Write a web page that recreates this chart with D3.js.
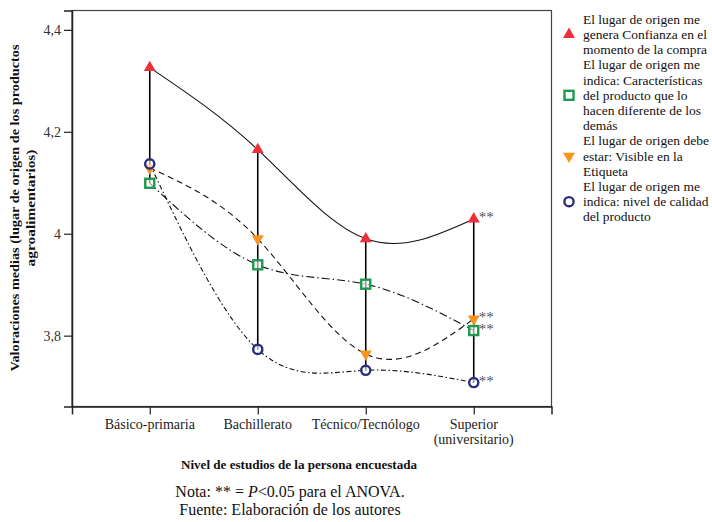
<!DOCTYPE html>
<html><head><meta charset="utf-8">
<script src="https://cdn.jsdelivr.net/npm/d3@7"></script>
<style>body{margin:0;background:#fff}svg{display:block}text{font-family:"Liberation Serif","Times New Roman",serif}</style>
</head><body><svg id="c" width="712" height="522"></svg>
<script>
const categories = ["Básico-primaria","Bachillerato","Técnico/Tecnólogo","Superior (universitario)"];
const categoryLines = [["Básico-primaria"],["Bachillerato"],["Técnico/Tecnólogo"],["Superior","(universitario)"]];
const confianza = [4.326, 4.165, 3.990, 4.029];
const caracteristicas = [4.099, 3.939, 3.901, 3.810];
const visible = [4.129, 3.990, 3.764, 3.833];
const calidad = [4.137, 3.773, 3.732, 3.708];
const yTicks = [3.8, 4.0, 4.2, 4.4];
const yTickLabels = ["3,8","4","4,2","4,4"];
const significant = [false,false,false,true];
const legendTexts = [
  ["El lugar de origen me","genera Confianza en el","momento de la compra"],
  ["El lugar de origen me","indica: Características","del producto que lo","hacen diferente de los","demás"],
  ["El lugar de origen debe","estar: Visible en la","Etiqueta"],
  ["El lugar de origen me","indica: nivel de calidad","del producto"]
];

const svg = d3.select("#c");
const L=72, R=551.5, T=10.5, B=406.5;
const x = d3.scalePoint().domain(categories).range([L,R]).padding(0.72);
const y = d3.scaleLinear().domain([3.661,4.438]).range([B,T]);

const series = [
  {vals:confianza, dash:null, kind:"tri", color:"#ee2f3a"},
  {vals:caracteristicas, dash:"8,3,1.5,3", kind:"sq", color:"#1d9a4e"},
  {vals:visible, dash:"6,4", kind:"itri", color:"#f7941d"},
  {vals:calidad, dash:"5,2.5,1.5,2.5", kind:"circ", color:"#2b2d7f"}
];

// frame
svg.append("rect").attr("x",L).attr("y",T).attr("width",R-L).attr("height",B-T)
  .attr("fill","none").attr("stroke","#444").attr("stroke-width",1.2);

// axes
const yAxis = d3.axisLeft(y).tickValues(yTicks).tickFormat((d,i)=>yTickLabels[i]).tickSize(8).tickPadding(3);
const gy = svg.append("g").attr("transform",`translate(${L},0)`).call(yAxis);
gy.select(".domain").attr("stroke","#222").attr("stroke-width",1.5);
gy.selectAll(".tick line").attr("stroke","#222").attr("stroke-width",1.2);
gy.selectAll(".tick text").attr("font-size",14).attr("fill","#333").attr("font-family","Liberation Serif");

const xAxis = d3.axisBottom(x).tickSize(8).tickFormat("");
const gx = svg.append("g").attr("transform",`translate(0,${B})`).call(xAxis);
gx.select(".domain").attr("stroke","#222").attr("stroke-width",1.5);
gx.selectAll(".tick line").attr("stroke","#222").attr("stroke-width",1.2);
categories.forEach((c,i)=>{
  categoryLines[i].forEach((t,j)=>{
    svg.append("text").attr("x",x(c)).attr("y",429+15*j).attr("text-anchor","middle")
      .attr("font-size",14).attr("fill","#222").text(t);
  });
});

// high-low lines
categories.forEach((c,i)=>{
  const v = series.map(s=>s.vals[i]);
  svg.append("line").attr("x1",x(c)).attr("x2",x(c)).attr("y1",y(d3.max(v))).attr("y2",y(d3.min(v)))
    .attr("stroke","#000").attr("stroke-width",1.6);
});

// curves
const line = d3.line().x((d,i)=>x(categories[i])).y(d=>y(d)).curve(d3.curveNatural);
series.forEach(s=>{
  svg.append("path").attr("d",line(s.vals)).attr("fill","none").attr("stroke","#111")
    .attr("stroke-width",1.1).attr("stroke-dasharray",s.dash);
});

function marker(g,kind,color,cx,cy){
  if(kind==="tri"){
    g.append("path").attr("d",d3.symbol(d3.symbolTriangle,62)()).attr("transform",`translate(${cx},${cy})`).attr("fill",color);
  } else if(kind==="itri"){
    g.append("path").attr("d",d3.symbol(d3.symbolTriangle,62)()).attr("transform",`translate(${cx},${cy}) rotate(180)`).attr("fill",color);
  } else if(kind==="sq"){
    g.append("rect").attr("x",cx-4.5).attr("y",cy-4.5).attr("width",9).attr("height",9)
      .attr("fill","#fff").attr("fill-opacity",0.6).attr("stroke",color).attr("stroke-width",2.4);
  } else {
    g.append("circle").attr("cx",cx).attr("cy",cy).attr("r",4.6)
      .attr("fill","#fff").attr("fill-opacity",0.6).attr("stroke",color).attr("stroke-width",2.4);
  }
}
const mg = svg.append("g");
series.forEach(s=>{
  s.vals.forEach((v,i)=>{
    marker(mg,s.kind,s.color,x(categories[i]),y(v));
    if(significant[i]){
      svg.append("text").attr("x",x(categories[i])+5).attr("y",y(v)+3).attr("font-size",15)
        .attr("fill","#555").text("**");
    }
  });
});

// legend
const lg = svg.append("g");
let line0 = 0;
const lh = 15.2, base0 = 23.8, lx = 583, mx = 569;
legendTexts.forEach((lines,k)=>{
  lines.forEach((t,j)=>{
    lg.append("text").attr("x",lx).attr("y",base0+lh*(line0+j)).attr("font-size",13.5).attr("fill","#111").text(t);
  });
  const mid = line0 + (lines.length-1)/2;
  marker(lg,series[k].kind,series[k].color,mx,base0+lh*mid-4.5);
  line0 += lines.length;
});

// axis titles
svg.append("text").attr("x",299).attr("y",469).attr("text-anchor","middle").attr("font-size",13)
  .attr("font-weight","bold").attr("fill","#111").attr("textLength",236).attr("lengthAdjust","spacingAndGlyphs")
  .text("Nivel de estudios de la persona encuestada");
const yt = svg.append("g").attr("transform","translate(0,208) rotate(-90)");
yt.append("text").attr("x",0).attr("y",19).attr("text-anchor","middle").attr("font-size",13)
  .attr("font-weight","bold").attr("fill","#111").attr("textLength",327).attr("lengthAdjust","spacingAndGlyphs")
  .text("Valoraciones medias (lugar de origen de los productos");
yt.append("text").attr("x",0).attr("y",35).attr("text-anchor","middle").attr("font-size",13)
  .attr("font-weight","bold").attr("fill","#111").attr("textLength",117).attr("lengthAdjust","spacingAndGlyphs")
  .text("agroalimentarios)");

// notes
const n1 = svg.append("text").attr("x",290).attr("y",497).attr("text-anchor","middle").attr("font-size",16).attr("fill","#111");
n1.append("tspan").text("Nota: ** = ");
n1.append("tspan").attr("font-style","italic").text("P");
n1.append("tspan").text("<0.05 para el ANOVA.");
svg.append("text").attr("x",290).attr("y",515).attr("text-anchor","middle").attr("font-size",16).attr("fill","#111")
  .text("Fuente: Elaboración de los autores");
</script></body></html>
